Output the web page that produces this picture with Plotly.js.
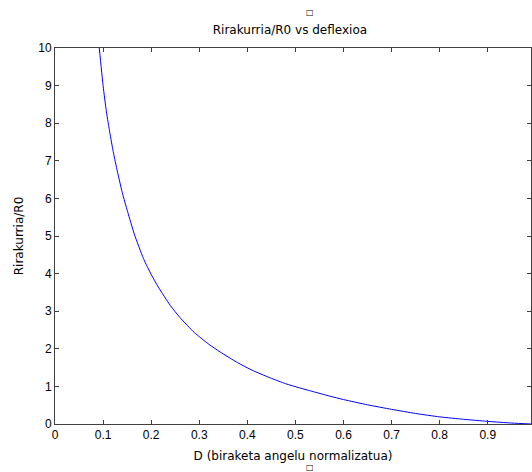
<!DOCTYPE html>
<html>
<head>
<meta charset="utf-8">
<script src="https://cdn.plot.ly/plotly-3.0.1.min.js"></script>
<style>html,body{margin:0;padding:0;background:#fff;}#chart{width:532px;height:472px;}</style>
</head>
<body>
<div id="chart"></div>
<script>
const deflexioa = [0.088, 0.092, 0.1, 0.107, 0.114, 0.121, 0.128, 0.14, 0.151, 0.165, 0.184, 0.2, 0.215, 0.24, 0.26, 0.29, 0.32, 0.343, 0.38, 0.41, 0.447, 0.48, 0.509, 0.54, 0.572, 0.6, 0.65, 0.7, 0.75, 0.8, 0.85, 0.9, 0.95, 0.99];
const rirakurria = [10.4, 10.0, 9.0, 8.3, 7.75, 7.25, 6.82, 6.15, 5.65, 5.05, 4.4, 3.98, 3.64, 3.15, 2.83, 2.43, 2.12, 1.92, 1.63, 1.43, 1.23, 1.07, 0.96, 0.85, 0.74, 0.65, 0.51, 0.39, 0.28, 0.19, 0.125, 0.07, 0.025, 0.0];
const xTicks = [0, 0.1, 0.2, 0.3, 0.4, 0.5, 0.6, 0.7, 0.8, 0.9];
const xTickText = ['0', '0.1', '0.2', '0.3', '0.4', '0.5', '0.6', '0.7', '0.8', '0.9'];
const yTicks = [0, 1, 2, 3, 4, 5, 6, 7, 8, 9, 10];
const titleText = 'Rirakurria/R0 vs deflexioa';
const xTitleText = 'D (biraketa angelu normalizatua)';
const yTitleText = 'Rirakurria/R0';
const boxGlyph = '□';

const tickFont = {family: 'Liberation Sans, Arial, sans-serif', size: 12, color: '#000'};
const labelFont = {family: 'DejaVu Sans, sans-serif', size: 12, color: '#000'};
const boxFont = {family: 'DejaVu Sans, sans-serif', size: 8, color: '#000'};
const axisCommon = {
  showgrid: false, zeroline: false, showline: true, linecolor: '#404040', linewidth: 1,
  ticks: 'inside', ticklen: 4, tickcolor: '#404040', mirror: 'ticks',
  tickfont: tickFont
};
Plotly.newPlot('chart', [{
  x: deflexioa, y: rirakurria, type: 'scatter', mode: 'lines',
  line: {color: '#0000ff', width: 1, shape: 'spline', smoothing: 0.6}, hoverinfo: 'skip'
}], {
  width: 532, height: 472,
  margin: {l: 55, r: 1, t: 48, b: 48},
  paper_bgcolor: '#fff', plot_bgcolor: '#fff',
  font: tickFont,
  showlegend: false,
  title: {text: titleText, font: labelFont, x: 0.545, xanchor: 'center', y: 1 - 30 / 472, yanchor: 'middle'},
  annotations: [
    {text: boxGlyph, font: boxFont, xref: 'paper', yref: 'paper', x: 0.535, y: 1 + (48 - 12) / 376, showarrow: false, xanchor: 'center', yanchor: 'middle'},
    {text: boxGlyph, font: boxFont, xref: 'paper', yref: 'paper', x: 0.535, y: -(467 - 424) / 376, showarrow: false, xanchor: 'center', yanchor: 'middle'}
  ],
  xaxis: Object.assign({}, axisCommon, {
    range: [0, 0.99], tickvals: xTicks, ticktext: xTickText,
    title: {text: xTitleText, font: labelFont, standoff: 10}
  }),
  yaxis: Object.assign({}, axisCommon, {
    range: [0, 10], tickvals: yTicks,
    title: {text: yTitleText, font: labelFont, standoff: 12}
  })
}, {staticPlot: true});
</script>
</body>
</html>
